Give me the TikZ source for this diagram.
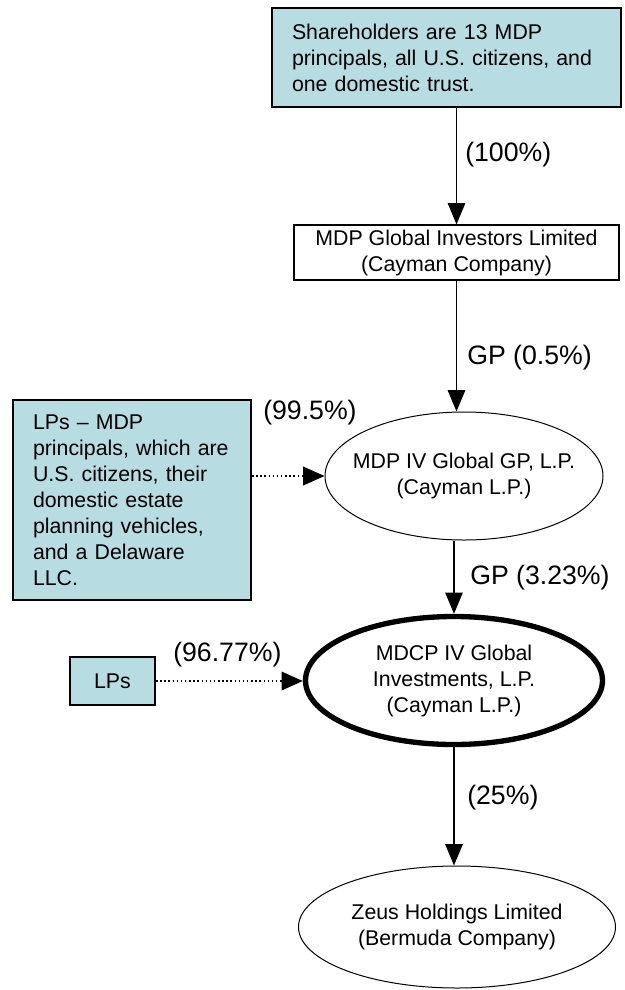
\documentclass[tikz,border=0pt]{standalone}
\usepackage{fontspec}
\setmainfont{Liberation Sans}
\usetikzlibrary{arrows.meta, calc, shapes.geometric, positioning}
\definecolor{lpblue}{RGB}{183,221,227}

\begin{document}
\begin{tikzpicture}[x=0.75pt, y=-0.75pt,
        every node/.style={font=\fontsize{16pt}{19.5pt}\selectfont},
        holder/.style={draw, line width=1.6pt, fill=lpblue, align=left, inner xsep=15pt},
        entity/.style={draw, line width=0.9pt, align=center, inner sep=0pt},
        fund/.style={ellipse, draw, line width=0.75pt, align=center, inner xsep=-40pt, inner ysep=0pt},
        own/.style={-{Triangle[length=16pt, width=13pt]}, line width=1.4pt},
        lpown/.style={-{Triangle[length=16pt, width=14pt]}, dotted, line width=1.1pt},
        pct/.style={anchor=west, inner sep=0pt, font=\fontsize{20pt}{24pt}\selectfont}]

        \useasboundingbox (0,0) rectangle (625,990);

% Owners on top
        \node[holder, text width=231.75pt, minimum height=74.25pt] (share) at (446.5,57.5)
        {Shareholders are 13 MDP\\principals, all U.S. citizens, and\\one domestic trust.};
        \node[entity, minimum width=243.75pt, minimum height=41.25pt] (gil) at (456.5,252.5)
        {MDP Global Investors Limited\\(Cayman Company)};

% Partnerships
        \node[fund, minimum width=208.5pt, minimum height=96pt] (gp) at (464,476)
        {MDP IV Global GP, L.P.\\(Cayman L.P.)};
        \node[fund, line width=4pt, minimum width=222.75pt, minimum height=96pt] (inv) at (454,680.5)
        {MDCP IV Global\\Investments, L.P.\\(Cayman L.P.)};
        \node[fund, minimum width=237.75pt, minimum height=91.5pt] (zeus) at (457,927)
        {Zeus Holdings Limited\\(Bermuda Company)};

% Limited partners
        \node[holder, text width=148.5pt, minimum height=150pt] (lpbox) at (132,500)
        {LPs – MDP\\principals, which are\\U.S. citizens, their\\domestic estate\\planning vehicles,\\and a Delaware\\LLC.};
        \node[holder, inner xsep=0pt, align=center, minimum width=63.75pt, minimum height=36pt] (lps) at (112.5,681) {LPs};

% Ownership arrows
        \draw[own] (share.south -| gil.north) -- (gil.north);
        \draw[own] (gil.south) -- (gil.south |- gp.north);
        \draw[own] (inv.north |- gp.south) -- (inv.north);
        \draw[own] (inv.south) -- (inv.south |- zeus.north);
        \draw[lpown] (lpbox.east |- gp.west) -- (gp.west);
        \draw[lpown] (lps.east) -- (lps.east -| inv.west);

% Percentages
        \node[pct] (p100) at (465,155) {(100\%)};
        \node[pct] (p05) at (467,358) {GP (0.5\%)};
        \node[pct] (p995) at (263,413) {(99.5\%)};
        \node[pct] (p323) at (470,578) {GP (3.23\%)};
        \node[pct] (p9677) at (173,655) {(96.77\%)};
        \node[pct] (p25) at (467,798) {(25\%)};

\end{tikzpicture}
\end{document}
